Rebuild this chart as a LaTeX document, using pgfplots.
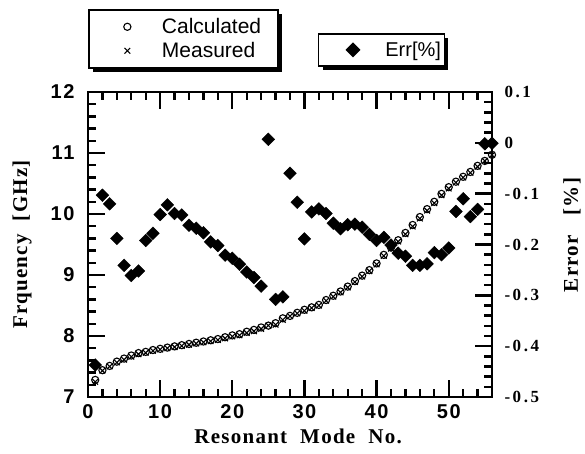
\documentclass[border=0pt]{standalone}
\usepackage{fontspec}
\setmainfont{Liberation Serif}
\newfontfamily\sansf{Liberation Sans}
\newfontfamily\tickf{Liberation Sans}[LetterSpace=8]
\newfontfamily\labf{Liberation Serif}[LetterSpace=6]
\newfontfamily\rtickf{Liberation Serif}[LetterSpace=15]
\usepackage{pgfplots}
\pgfplotsset{compat=1.18}
\usepackage{pgfplotstable}
\usetikzlibrary{shadows}

% mode, calculated [GHz], measured [GHz], error [%]
\pgfplotstableread{
n calc meas err
1 7.28 7.248 -0.437
2 7.44 7.432 -0.103
3 7.51 7.501 -0.120
4 7.58 7.566 -0.188
5 7.63 7.612 -0.241
6 7.68 7.660 -0.261
7 7.72 7.701 -0.252
8 7.74 7.725 -0.192
9 7.77 7.756 -0.178
10 7.79 7.779 -0.141
11 7.81 7.800 -0.122
12 7.83 7.819 -0.139
13 7.85 7.839 -0.142
14 7.87 7.857 -0.162
15 7.89 7.877 -0.168
16 7.91 7.896 -0.177
17 7.93 7.915 -0.195
18 7.95 7.934 -0.202
19 7.98 7.962 -0.221
20 8.01 7.992 -0.227
21 8.03 8.011 -0.239
22 8.07 8.050 -0.254
23 8.10 8.079 -0.265
24 8.14 8.117 -0.282
25 8.17 8.171 0.007
26 8.21 8.185 -0.308
27 8.29 8.265 -0.303
28 8.33 8.325 -0.060
29 8.38 8.370 -0.117
30 8.43 8.414 -0.189
31 8.47 8.458 -0.136
32 8.51 8.499 -0.130
33 8.59 8.578 -0.139
34 8.66 8.646 -0.158
35 8.73 8.715 -0.169
36 8.81 8.796 -0.161
37 8.90 8.886 -0.160
38 8.99 8.975 -0.166
39 9.08 9.064 -0.180
40 9.19 9.172 -0.192
41 9.33 9.313 -0.186
42 9.45 9.431 -0.201
43 9.57 9.549 -0.217
44 9.69 9.668 -0.223
45 9.82 9.796 -0.241
46 9.95 9.926 -0.241
47 10.08 10.056 -0.238
48 10.20 10.178 -0.216
49 10.33 10.307 -0.220
50 10.44 10.418 -0.207
51 10.53 10.516 -0.135
52 10.61 10.598 -0.110
53 10.69 10.675 -0.145
54 10.79 10.776 -0.131
55 10.87 10.870 -0.002
56 10.97 10.970 -0.001
}\modes

\pgfplotsset{
  myframe/.style={
    scale only axis, width=404pt, height=305pt,
    at={(88pt,56pt)}, anchor=south west,
    xmin=0, xmax=56,
    clip mode=individual,
    every outer x axis line/.append style={line width=2.6pt},
    every outer y axis line/.append style={line width=2.6pt},
    tick align=inside, major tick length=17pt, minor tick length=8pt,
    every tick/.append style={black, line width=2.4pt},
  },
  % tick marks also drawn as short quiver segments (17pt major, 8pt minor)
  tickline/.style={black, line width=2.4pt, no marks, clip=false, forget plot},
  boxleg/.style={
    draw=black, line width=1.5pt, fill=white,
    drop shadow={shadow xshift=4pt, shadow yshift=-4pt, fill=black, opacity=1},
    anchor=north west, row sep=0pt,
  },
  legimg/.style={legend image code/.code={\draw[##1] plot coordinates {(0pt,0pt)};}},
}

\begin{document}
\begin{tikzpicture}
\path (0pt,0pt) rectangle (585pt,453pt);

\begin{axis}[myframe,
    ymin=7, ymax=12,
    xtick={0,10,20,30,40,50}, ytick={7,8,9,10,11,12},
    minor x tick num=4, minor y tick num=4,
    ytick pos=left,
    ticklabel style={font=\tickf\bfseries\fontsize{20}{20}\selectfont,
      /pgf/number format/assume math mode=true},
    yticklabel style={xshift=-10pt},
    xticklabel style={yshift=-4pt},
    xlabel={Resonant\ \ Mode\ \ No.}, ylabel={Frquency\ \ [GHz]},
    label style={font=\labf\bfseries\fontsize{21}{21}\selectfont},
    xlabel style={at={(axis description cs:0.52,-0.128)}, anchor=center},
    ylabel style={at={(axis description cs:-0.163,0.5)}, anchor=center},
    legend cell align=left,
    legend style={boxleg, at={(0,1.272)}, inner xsep=35pt, inner ysep=5pt,
      column sep=31pt, font=\sansf\fontsize{21}{21}\selectfont,
      nodes={anchor=west, inner xsep=0pt, inner ysep=2pt,
             text height=17pt, text depth=3pt, text width=81pt, align=left}},
  ]
  % bottom and top ticks
  \addplot[tickline, quiver={u=0, v=0.2787}] coordinates
    {(10,7) (20,7) (30,7) (40,7) (50,7)};
  \addplot[tickline, quiver={u=0, v=-0.2787}] coordinates
    {(10,12) (20,12) (30,12) (40,12) (50,12)};
  \addplot[tickline, quiver={u=0, v=0.1311}] coordinates
    {(2,7) (4,7) (6,7) (8,7) (12,7) (14,7) (16,7) (18,7) (22,7) (24,7) (26,7)
     (28,7) (32,7) (34,7) (36,7) (38,7) (42,7) (44,7) (46,7) (48,7) (52,7) (54,7)};
  \addplot[tickline, quiver={u=0, v=-0.1311}] coordinates
    {(2,12) (4,12) (6,12) (8,12) (12,12) (14,12) (16,12) (18,12) (22,12) (24,12)
     (26,12) (28,12) (32,12) (34,12) (36,12) (38,12) (42,12) (44,12) (46,12)
     (48,12) (52,12) (54,12)};
  % left ticks
  \addplot[tickline, quiver={u=2.357, v=0}] coordinates
    {(0,8) (0,9) (0,10) (0,11)};
  \addplot[tickline, quiver={u=1.109, v=0}] coordinates
    {(0,7.2) (0,7.4) (0,7.6) (0,7.8) (0,8.2) (0,8.4) (0,8.6) (0,8.8) (0,9.2)
     (0,9.4) (0,9.6) (0,9.8) (0,10.2) (0,10.4) (0,10.6) (0,10.8) (0,11.2)
     (0,11.4) (0,11.6) (0,11.8)};

  \addplot[only marks, clip=false, mark=o, mark size=3.6pt,
    mark options={line width=1.1pt}, legimg]
    table[x=n, y=calc]{\modes};
  \addlegendentry{Calculated}
  \addplot[only marks, clip=false, mark=x, mark size=4pt,
    mark options={line width=1.1pt}, legimg]
    table[x=n, y=meas]{\modes};
  \addlegendentry{Measured}
\end{axis}

\begin{axis}[myframe,
    ymin=-0.5, ymax=0.1,
    axis x line=none, axis y line*=right,
    ytick={-0.5,-0.4,-0.3,-0.2,-0.1,0,0.1}, minor y tick num=4,
    yticklabel style={font=\rtickf\bfseries\fontsize{17}{17}\selectfont, xshift=9pt,
      /pgf/number format/.cd, assume math mode=true, fixed, precision=1},
    ylabel={Error\ \ \ [\%]},
    ylabel style={font=\labf\bfseries\fontsize{21}{21}\selectfont,
      at={(axis description cs:1.198,0.531)}, anchor=center},
    legend cell align=left,
    legend style={boxleg, at={(0.569,1.193)}, inner xsep=28pt, inner ysep=4pt,
      column sep=26pt, font=\sansf\fontsize{20}{20}\selectfont,
      nodes={anchor=west, inner xsep=0pt, inner ysep=2pt,
             text height=17pt, text depth=3pt, text width=31pt, align=left}},
  ]
  % right ticks
  \addplot[tickline, quiver={u=-2.357, v=0}] coordinates
    {(56,-0.4) (56,-0.3) (56,-0.2) (56,-0.1) (56,0)};
  \addplot[tickline, quiver={u=-1.109, v=0}] coordinates
    {(56,-0.48) (56,-0.46) (56,-0.44) (56,-0.42) (56,-0.38) (56,-0.36) (56,-0.34)
     (56,-0.32) (56,-0.28) (56,-0.26) (56,-0.24) (56,-0.22) (56,-0.18) (56,-0.16)
     (56,-0.14) (56,-0.12) (56,-0.08) (56,-0.06) (56,-0.04) (56,-0.02) (56,0.02)
     (56,0.04) (56,0.06) (56,0.08)};

  \addplot[only marks, clip=false, mark=square*, mark size=4.5pt,
    mark options={rotate=45}, legimg]
    table[x=n, y=err]{\modes};
  \addlegendentry{Err[\%]}
\end{axis}
\end{tikzpicture}
\end{document}
